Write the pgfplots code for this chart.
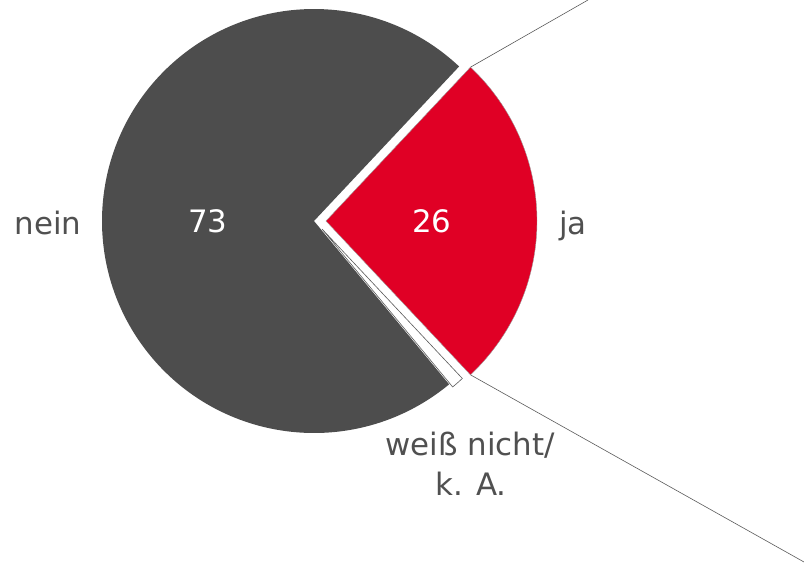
\documentclass[border=0pt]{standalone}
\usepackage{pgfplots}
\usepackage{pgfplotstable}
\pgfplotsset{compat=1.18}
\usepackage{fontspec}
\setmainfont{DejaVu Sans}
\definecolor{neingray}{HTML}{4D4D4D}
\definecolor{jared}{HTML}{E00025}
\definecolor{txtgray}{HTML}{505050}
\definecolor{linegray}{HTML}{5A5A5A}
\pgfplotstableread{
label value
ja 26
weissnicht 1
nein 73
}\piedata
\begin{document}
\begin{tikzpicture}
\pgfplotstablegetelem{0}{value}\of\piedata \let\vJa\pgfplotsretval
\pgfplotstablegetelem{1}{value}\of\piedata \let\vW\pgfplotsretval
\pgfplotstablegetelem{2}{value}\of\piedata \let\vN\pgfplotsretval
\pgfmathsetmacro{\hJa}{\vJa*1.8}
\pgfmathsetmacro{\mJa}{-\vJa*1.8}
\pgfmathsetmacro{\eW}{\mJa-\vW*3.6}
\pgfmathsetmacro{\eN}{\eW-\vN*3.6}
\begin{axis}[
  x=1bp, y=1bp, y dir=reverse,
  xmin=0, xmax=804, ymin=0, ymax=565,
  hide axis, clip=false, scale only axis,
]
% nein
\fill[neingray] (axis cs:314,221) -- ++(\eW:212bp) arc[start angle=\eW, end angle=\eN, radius=212bp] -- cycle;
% weiss nicht / k. A.
\filldraw[fill=white, draw=linegray, line width=0.6bp] (axis cs:322,229) -- ++(\mJa:205bp) arc[start angle=\mJa, end angle=\eW, radius=205bp] -- cycle;
% ja
\filldraw[fill=jared, draw=linegray!60, line width=0.4bp] (axis cs:326,221) -- ++(\hJa:211bp) arc[start angle=\hJa, end angle=\mJa, radius=211bp] -- cycle;
\path (axis cs:326,221) ++(\hJa:211bp) coordinate (rt);
\path (axis cs:326,221) ++(\mJa:211bp) coordinate (rb);
\draw[linegray, line width=0.6bp] (rt) -- (axis cs:588,0);
\draw[linegray, line width=0.6bp] (rb) -- (axis cs:804,562);
% labels
\node[anchor=base, text=white, font=\fontsize{31}{37}\selectfont, inner sep=0pt] at (axis cs:208,233) {\vN};
\node[anchor=base, text=white, font=\fontsize{31}{37}\selectfont, inner sep=0pt] at (axis cs:432,233) {\vJa};
\node[anchor=base, text=txtgray, font=\fontsize{31}{37}\selectfont, inner sep=0pt] at (axis cs:48,235) {nein};
\node[anchor=base, text=txtgray, font=\fontsize{31}{37}\selectfont, inner sep=0pt] at (axis cs:573,235) {ja};
\node[anchor=base, text=txtgray, font=\fontsize{31}{37}\selectfont, inner sep=0pt] at (axis cs:470,455) {weiß nicht/};
\node[anchor=base, text=txtgray, font=\fontsize{31}{37}\selectfont, inner sep=0pt] at (axis cs:471,495) {k. A.};
\coordinate (BL) at (axis cs:0,565);
\coordinate (TR) at (axis cs:804,0);
\end{axis}
\pgfresetboundingbox
\path[use as bounding box] (BL) rectangle (TR);
\end{tikzpicture}
\end{document}
